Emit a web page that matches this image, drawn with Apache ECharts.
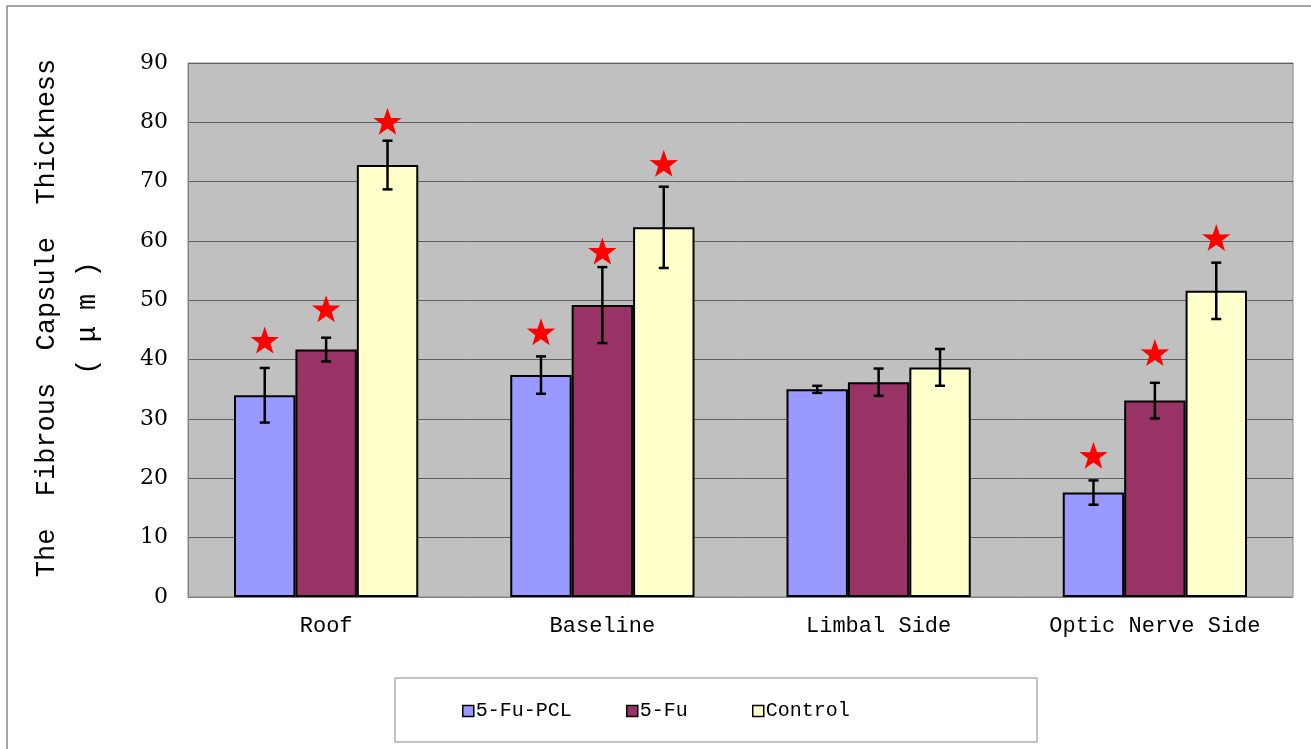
<!DOCTYPE html>
<html>
<head>
<meta charset="utf-8">
<script src="https://cdn.jsdelivr.net/npm/echarts@6/dist/echarts.min.js"></script>
<style>html,body{margin:0;padding:0;background:#fff;}#c{width:1311px;height:749px;}</style>
</head>
<body>
<div id="c"></div>
<script>
const categories = ['Roof', 'Baseline', 'Limbal Side', 'Optic Nerve Side'];
const seriesNames = ['5-Fu-PCL', '5-Fu', 'Control'];
const pclValues = [34.0, 37.4, 35.0, 17.6];
const pclErrors = [4.6, 3.15, 0.6, 2.05];
const pclStars = [43.3, 44.7, null, 23.9];
const fuValues = [41.7, 49.2, 36.2, 33.1];
const fuErrors = [2.0, 6.4, 2.3, 3.0];
const fuStars = [48.6, 58.3, null, 41.2];
const ctrlValues = [72.8, 62.3, 38.7, 51.6];
const ctrlErrors = [4.1, 6.85, 3.1, 4.75];
const ctrlStars = [80.2, 73.1, null, 60.6];
const yTicks = [0, 10, 20, 30, 40, 50, 60, 70, 80, 90];

const colors = ['#9999ff', '#993366', '#ffffcc'];
const allValues = [pclValues, fuValues, ctrlValues];
const allErrors = [pclErrors, fuErrors, ctrlErrors];
const allStars = [pclStars, fuStars, ctrlStars];
const gapRatio = 1 / 3;
const starPath = 'M50,0 L61.8,35.1 L97.6,34.5 L69,56.7 L79.4,90.5 L50,70 L20.6,90.5 L31,56.7 L2.4,34.5 L38.2,35.1 Z';

const errData = [];
for (let s = 0; s < 3; s++) {
  for (let c = 0; c < categories.length; c++) {
    errData.push([c, s, allValues[s][c], allErrors[s][c], allStars[s][c] == null ? -1 : allStars[s][c]]);
  }
}

const chart = echarts.init(document.getElementById('c'));
const barSeries = seriesNames.map((n, i) => ({
  name: n,
  type: 'bar',
  data: allValues[i],
  barGap: '0%',
  barCategoryGap: '33.3%',
  itemStyle: { color: colors[i], borderColor: '#000', borderWidth: 2 },
  z: 2
}));

const legendLefts = [462, 626, 752];
const legends = seriesNames.map((n, i) => ({
  data: [n],
  left: legendLefts[i], top: 701,
  padding: 0,
  itemWidth: 11, itemHeight: 11,
  icon: 'rect',
  itemStyle: { borderColor: '#000', borderWidth: 1.5 },
  textStyle: { fontFamily: 'Liberation Mono', fontSize: 20, color: '#000', padding: [0, 0, 0, -3] }
}));

chart.setOption({
  animation: false,
  backgroundColor: '#fff',
  graphic: [
    { type: 'rect', shape: { x: 7, y: 6, width: 1330, height: 780 }, style: { fill: 'none', stroke: '#888', lineWidth: 1.5 }, silent: true },
    { type: 'rect', shape: { x: 395, y: 678, width: 642, height: 64 }, style: { fill: '#fff', stroke: '#888', lineWidth: 1 }, silent: true, z: -1 }
  ],
  grid: { left: 188, right: 18, top: 63, bottom: 152, show: true, backgroundColor: '#c0c0c0', borderColor: '#888', borderWidth: 1 },
  legend: legends,
  xAxis: {
    type: 'category',
    data: categories,
    axisLine: { lineStyle: { color: '#808080', width: 1 } },
    axisTick: { inside: true, length: 6, lineStyle: { color: '#808080' } },
    axisLabel: { fontFamily: 'Liberation Mono', fontSize: 22, color: '#000', margin: 18 }
  },
  yAxis: {
    type: 'value',
    min: 0, max: 90, interval: 10,
    name: 'The  Fibrous  Capsule  Thickness\n( μ m )',
    nameLocation: 'middle',
    nameRotate: 90,
    nameGap: 80,
    nameTextStyle: { fontFamily: 'Liberation Mono', fontSize: 27, color: '#000', lineHeight: 41, align: 'center', padding: [0, 0, 0, 24] },
    axisLine: { show: true, lineStyle: { color: '#808080' } },
    axisTick: { show: false },
    axisLabel: { fontFamily: 'DejaVu Serif', fontSize: 22, color: '#000', margin: 20,
      formatter: v => yTicks.indexOf(v) >= 0 ? String(v) : '' },
    splitLine: { show: true, lineStyle: { color: '#606060', width: 1 } }
  },
  series: barSeries.concat([{
    type: 'custom',
    name: 'errors',
    data: errData,
    encode: { x: 0, y: 2 },
    z: 5,
    renderItem: function (params, api) {
      const c = api.value(0), s = api.value(1), v = api.value(2), e = api.value(3), st = api.value(4);
      const band = api.size([1, 0])[0];
      const barW = band * (1 - gapRatio) / 3;
      const cx = api.coord([c, 0])[0] + (s - 1) * barW;
      const yTop = api.coord([c, v + e])[1];
      const yBot = api.coord([c, v - e])[1];
      const cap = 5;
      const ls = { stroke: '#000', lineWidth: 2.5 };
      const children = [
        { type: 'line', shape: { x1: cx, y1: yTop, x2: cx, y2: yBot }, style: ls },
        { type: 'line', shape: { x1: cx - cap, y1: yTop, x2: cx + cap, y2: yTop }, style: ls },
        { type: 'line', shape: { x1: cx - cap, y1: yBot, x2: cx + cap, y2: yBot }, style: ls }
      ];
      if (st >= 0) {
        const sy = api.coord([c, st])[1];
        const w = 35, h = 27;
        children.push({ type: 'path', shape: { pathData: starPath, x: cx - w / 2, y: sy - h / 2, width: w, height: h }, style: { fill: '#ff0000' } });
      }
      return { type: 'group', children: children };
    }
  }])
});
</script>
</body>
</html>
